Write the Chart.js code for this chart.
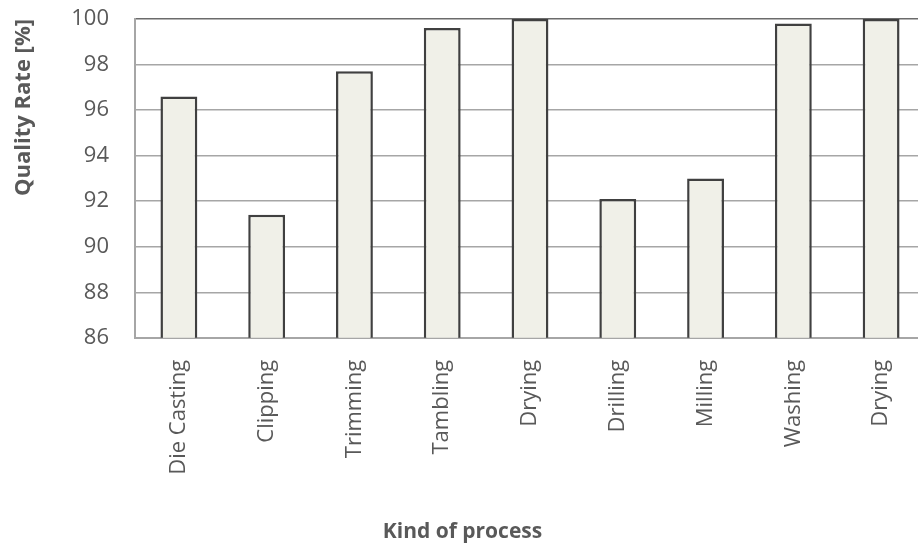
<!DOCTYPE html>
<html>
<head>
<meta charset="utf-8">
<script src="https://cdn.jsdelivr.net/npm/chart.js@4/dist/chart.umd.min.js"></script>
<style>
  html, body { margin: 0; padding: 0; background: #ffffff; overflow: hidden; width: 918px; height: 545px; }
  #wrap { width: 925px; height: 545px; }
</style>
</head>
<body>
<div id="wrap"><canvas id="chart" width="925" height="545"></canvas></div>
<script>
// Quality rate per process step
const categories = ['Die Casting', 'Clipping', 'Trimming', 'Tambling', 'Drying', 'Drilling', 'Milling', 'Washing', 'Drying'];
const qualityRate = [96.6, 91.4, 97.7, 99.6, 100, 92.1, 93.0, 99.8, 100];
const yTicks = [86, 88, 90, 92, 94, 96, 98, 100];

const textColor = '#595959';
const font = 'Open Sans';

// scales keep fixed sizes and no extra edge padding
function noEdgePadding(s) {
  s.paddingTop = 0;
  s.paddingBottom = 0;
  s.paddingLeft = 0;
  s.paddingRight = 0;
}

new Chart(document.getElementById('chart'), {
  type: 'bar',
  data: {
    labels: categories,
    datasets: [{
      data: qualityRate,
      backgroundColor: '#F0F0E8',
      borderColor: '#404040',
      borderWidth: 2.5,
      borderSkipped: 'bottom',
      categoryPercentage: 1.0,
      barPercentage: 0.42
    }]
  },
  options: {
    responsive: false,
    devicePixelRatio: 1,
    animation: false,
    layout: { padding: { top: 19, left: 0, right: 0, bottom: 0 } },
    plugins: {
      legend: { display: false },
      tooltip: { enabled: false },
      title: {
        display: true,
        position: 'bottom',
        text: 'Kind of process',
        color: textColor,
        font: { family: font, size: 21, weight: 'bold' },
        padding: { top: 0, bottom: 0 }
      }
    },
    scales: {
      x: {
        grid: { display: false, drawTicks: false },
        border: { display: true, color: '#A6A6A6', width: 2 },
        ticks: {
          color: textColor,
          font: { family: font, size: 22 },
          maxRotation: 90,
          minRotation: 90,
          padding: 22,
          autoSkip: false
        },
        afterFit: s => { s.height = 182; noEdgePadding(s); }
      },
      y: {
        min: yTicks[0],
        max: yTicks[yTicks.length - 1],
        afterBuildTicks: s => { s.ticks = yTicks.map(v => ({ value: v })); },
        grid: {
          drawTicks: false,
          color: c => (c.tick && c.tick.value === 100 ? '#6B6B6B' : '#A6A6A6'),
          lineWidth: 1.5
        },
        border: { display: true, color: '#A6A6A6', width: 2 },
        ticks: {
          color: textColor,
          font: { family: font, size: 22 },
          padding: 26
        },
        title: {
          display: true,
          text: 'Quality Rate [%]',
          align: 'end',
          color: textColor,
          font: { family: font, size: 22, weight: 'bold' },
          padding: { top: 11, bottom: 0 }
        },
        afterFit: s => { s.width = 135; noEdgePadding(s); }
      }
    }
  }
});
</script>
</body>
</html>
